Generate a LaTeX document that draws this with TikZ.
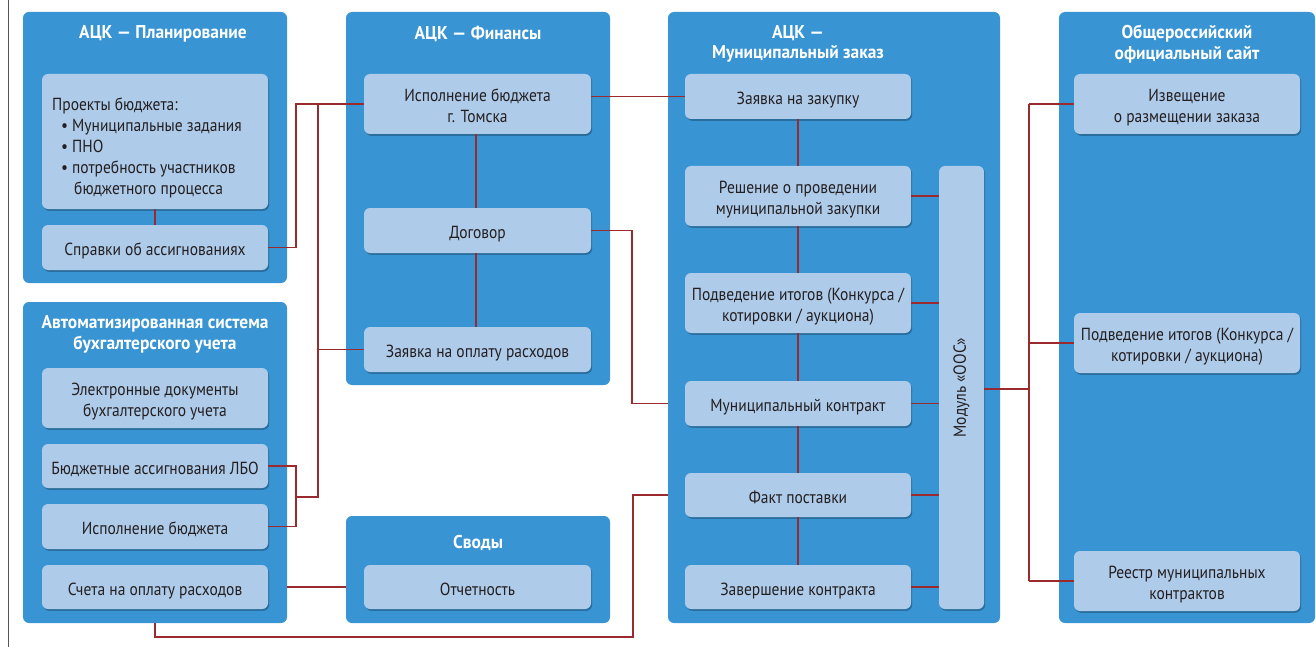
\documentclass[tikz,border=0pt]{standalone}
\usepackage{fontspec}
\setmainfont{PT Sans}[FakeStretch=0.885]
\newfontfamily\titlefont{PT Sans}[FakeStretch=0.94]
\usetikzlibrary{shadows}
\definecolor{panelblue}{HTML}{3894D2}
\definecolor{boxblue}{HTML}{AFCBEA}
\definecolor{connred}{HTML}{9B2A2F}
\definecolor{textdark}{HTML}{231F20}
\definecolor{edgegray}{HTML}{555555}
\newcommand\boxtxt[1]{\raisebox{-4pt}[\height][\depth]{\begin{tabular}{@{}c@{}}#1\end{tabular}}}
\tikzset{
  rect/.style args={#1/#2/#3/#4}{minimum width={#3-#1}, minimum height={#4-#2}, at={({(#1+#3)/2},{(#2+#4)/2})}},
  panel/.style={fill=panelblue, rounded corners=6pt, inner sep=0pt, outer sep=0pt},
  box/.style={fill=boxblue, rounded corners=6pt, inner sep=0pt, outer sep=0pt, align=center,
    text=textdark, font=\fontsize{17.5}{21}\selectfont,
    drop shadow={shadow xshift=1.2pt, shadow yshift=-1.8pt, opacity=0.25, fill=black}},
  boxtext/.style={text=textdark, font=\fontsize{17.5}{21}\selectfont, inner sep=0pt},
  ttl/.style={text=white, font=\titlefont\bfseries\fontsize{18.5}{20.5}\selectfont, align=center, inner sep=0pt},
  conn/.style={draw=connred, line width=1.5pt},
}
\begin{document}
\begin{tikzpicture}[x=1pt,y=-1pt]
\fill[white] (0,0) rectangle (1316,647);
\useasboundingbox (0,0) rectangle (1316,647);
\coordinate (ltop) at (8,0);
\coordinate (lbot) at (8,647);
\draw[edgegray, line width=1pt] (ltop) -- (lbot);

% panels
\node[panel, rect=23/12/287/283] (pPl) {};
\node[panel, rect=23/302/287/623] (pAS) {};
\node[panel, rect=346/12/610/385] (pFin) {};
\node[panel, rect=346/516/610/623] (pSv) {};
\node[panel, rect=668/12/1000/623] (pMZ) {};
\node[panel, rect=1059/12/1315/623] (pOS) {};

% titles
\node[ttl] (tPl) at (163,34) {АЦК — Планирование};
\node[ttl] (tAS) at (155,334.5) {Автоматизированная система\\бухгалтерского учета};
\node[ttl] (tFin) at (478,34) {АЦК — Финансы};
\node[ttl] (tSv) at (478,543) {Своды};
\node[ttl] (tMZ) at (798,44) {АЦК —\\Муниципальный заказ};
\node[ttl] (tOS) at (1187,44) {Общероссийский\\официальный сайт};

% boxes: planning
\node[box, rect=42/74/268/209] (proj) {};
\node[boxtext, anchor=west, align=left] (projt) at (52,148) {Проекты бюджета:\\
\hspace*{9pt}\makebox[11pt][l]{•}Муниципальные задания\\
\hspace*{9pt}\makebox[11pt][l]{•}ПНО\\
\hspace*{9pt}\makebox[11pt][l]{•}потребность участников\\
\hspace*{22pt}бюджетного процесса};
\node[box, rect=42/225/268/270] (sprav) {\boxtxt{Справки об ассигнованиях}};

% boxes: accounting
\node[box, rect=42/368/268/428] (edoc) {\boxtxt{Электронные документы\\бухгалтерского учета}};
\node[box, rect=42/444/268/488] (lbo) {\boxtxt{Бюджетные ассигнования ЛБО}};
\node[box, rect=42/504/268/549] (ispB) {\boxtxt{Исполнение бюджета}};
\node[box, rect=42/565/268/609] (schet) {\boxtxt{Счета на оплату расходов}};

% boxes: finance
\node[box, rect=364/74/591/134] (ispT) {\boxtxt{Исполнение бюджета\\г. Томска}};
\node[box, rect=364/208/591/253] (dog) {\boxtxt{Договор}};
\node[box, rect=364/327/591/372] (zopl) {\boxtxt{Заявка на оплату расходов}};

% boxes: svody
\node[box, rect=364/565/591/609] (otch) {\boxtxt{Отчетность}};

% boxes: municipal order
\node[box, rect=685/74/911/119] (zak) {\boxtxt{Заявка на закупку}};
\node[box, rect=685/166/911/226] (resh) {\boxtxt{Решение о проведении\\муниципальной закупки}};
\node[box, rect=685/273/911/333] (podv) {\boxtxt{Подведение итогов (Конкурса /\\котировки / аукциона)}};
\node[box, rect=685/381/911/426] (mk) {\boxtxt{Муниципальный контракт}};
\node[box, rect=685/473/911/517] (fakt) {\boxtxt{Факт поставки}};
\node[box, rect=685/565/911/609] (zav) {\boxtxt{Завершение контракта}};
\node[box, rect=939/166/984/609] (oos) {};
\node[boxtext, rotate=90] (oost) at (oos.center) {Модуль «ООС»};

% boxes: official site
\node[box, rect=1074/74/1300/134] (izv) {\boxtxt{Извещение\\о размещении заказа}};
\node[box, rect=1074/313/1300/373] (podv2) {\boxtxt{Подведение итогов (Конкурса /\\котировки / аукциона)}};
\node[box, rect=1074/551/1300/611] (reestr) {\boxtxt{Реестр муниципальных\\контрактов}};

% helper coordinates
\coordinate (brk) at (296,497);
\coordinate (busB) at (318,497);
\coordinate (finx) at (476,0);
\coordinate (busC) at (632,231);
\coordinate (bot) at (633,637);
\coordinate (rb) at (1029,389);

% connectors: planning / accounting / finance
\draw[conn] (proj.south) -- (sprav.north);
\draw[conn] (sprav.east) -| (brk |- ispT.west) -- (busB |- ispT.west);
\draw[conn] (lbo.east) -| (brk) |- (ispB.east);
\draw[conn] (brk) -- (busB) -- (busB |- ispT.west) -- (ispT.west);
\draw[conn] (busB |- zopl.west) -- (zopl.west);
\draw[conn] (finx |- ispT.south) -- (finx |- dog.north);
\draw[conn] (finx |- dog.south) -- (finx |- zopl.north);
\draw[conn] (schet.east -| pAS.east) -- (pSv.west |- schet.east);
\draw[conn] (ispT.east |- zak.west) -- (zak.west);
\draw[conn] (dog.east) -| (busC |- mk.west) -- (pMZ.west |- mk.west);
\draw[conn] (pAS.south) |- (bot) |- (pMZ.west |- fakt.west);

% municipal order chain
\draw[conn] (zak.south) -- (resh.north);
\draw[conn] (resh.south) -- (podv.north);
\draw[conn] (podv.south) -- (mk.north);
\draw[conn] (mk.south) -- (fakt.north);
\draw[conn] (fakt.south) -- (zav.north);
\draw[conn] (resh.east) -- (oos.west |- resh.east);
\draw[conn] (podv.east) -- (oos.west |- podv.east);
\draw[conn] (mk.east) -- (oos.west |- mk.east);
\draw[conn] (fakt.east) -- (oos.west |- fakt.east);
\draw[conn] (zav.east) -- (oos.west |- zav.east);

% module to official site
\draw[conn] (oos.east |- rb) -- (rb);
\draw[conn] (rb |- izv.west) -- (rb |- reestr.west);
\draw[conn] (rb |- izv.west) -- (izv.west);
\draw[conn] (rb |- podv2.west) -- (podv2.west);
\draw[conn] (rb |- reestr.west) -- (reestr.west);
\end{tikzpicture}
\end{document}
